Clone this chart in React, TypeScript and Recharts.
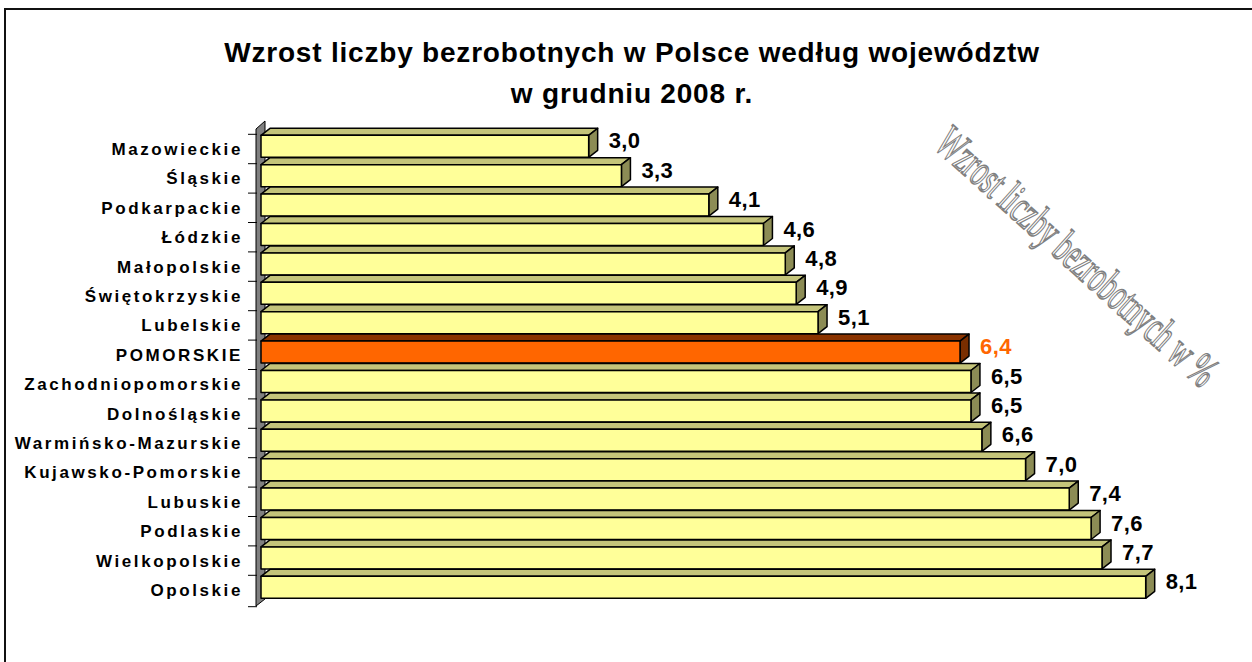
import React from "react";
import { BarChart, Bar, XAxis, YAxis, LabelList } from "recharts";

const regions = [
  "Mazowieckie",
  "Śląskie",
  "Podkarpackie",
  "Łódzkie",
  "Małopolskie",
  "Świętokrzyskie",
  "Lubelskie",
  "POMORSKIE",
  "Zachodniopomorskie",
  "Dolnośląskie",
  "Warmińsko-Mazurskie",
  "Kujawsko-Pomorskie",
  "Lubuskie",
  "Podlaskie",
  "Wielkopolskie",
  "Opolskie",
];
const growth = [3.0, 3.3, 4.1, 4.6, 4.8, 4.9, 5.1, 6.4, 6.5, 6.5, 6.6, 7.0, 7.4, 7.6, 7.7, 8.1];
const highlight = "POMORSKIE";

const titleLines = ["Wzrost liczby bezrobotnych w Polsce według województw", "w grudniu 2008 r."];
const watermark = "Wzrost liczby bezrobotnych w %";

const data = regions.map((name, i) => ({ name, value: growth[i] }));

const W = 1252;
const H = 662;
const DX = 9;
const DY = 7;
const BAND_HALF = 14.7;
const FONT = "'Liberation Sans', Arial, sans-serif";

const fmt = (v: number) => v.toFixed(1).replace(".", ",");

function Bar3D(props: any) {
  const { x, y, width, height, payload } = props;
  const hot = payload && payload.name === highlight;
  const front = hot ? "#FF6600" : "#FFFF99";
  const top = hot ? "#8A3300" : "#C4C47A";
  const side = hot ? "#7A2E00" : "#8C8C55";
  const fy = y - 3;
  const h = height;
  return (
    <g stroke="#000" strokeWidth={1.5} strokeLinejoin="round">
      <polygon
        points={`${x},${fy} ${x + DX},${fy - DY} ${x + width + DX},${fy - DY} ${x + width},${fy}`}
        fill={top}
      />
      <polygon
        points={`${x + width},${fy} ${x + width + DX},${fy - DY} ${x + width + DX},${fy + h - DY} ${x + width},${fy + h}`}
        fill={side}
      />
      <rect x={x} y={fy} width={width} height={h} fill={front} />
    </g>
  );
}

function ValueLabel(props: any) {
  const { x, y, width, value, index } = props;
  const hot = regions[index] === highlight;
  return (
    <text
      x={x + width + DX + 11}
      y={y + 10}
      fontFamily={FONT}
      fontWeight="bold"
      fontSize={22}
      letterSpacing={0.4}
      fill={hot ? "#FF6600" : "#000"}
    >
      {fmt(value)}
    </text>
  );
}

function CategoryTick(props: any) {
  const { y, payload, index } = props;
  const last = index === regions.length - 1;
  return (
    <g>
      <line x1={248} x2={257} y1={y - BAND_HALF} y2={y - BAND_HALF} stroke="#000" strokeWidth={1} />
      {last && <line x1={248} x2={257} y1={y + BAND_HALF + 2} y2={y + BAND_HALF + 2} stroke="#000" strokeWidth={1} />}
      <text
        x={243}
        y={y + 6}
        textAnchor="end"
        fontFamily={FONT}
        fontWeight="bold"
        fontSize={17}
        letterSpacing={2.6}
        fill="#000"
      >
        {payload.value}
      </text>
    </g>
  );
}

function Backdrop() {
  return (
    <svg width={W} height={H} style={{ position: "absolute", left: 0, top: 0 }}>
      <rect x={5} y={9} width={1300} height={700} fill="#fff" stroke="#111" strokeWidth={2} />
      {titleLines.map((t, i) => (
        <text
          key={i}
          x={632}
          y={62 + i * 41}
          textAnchor="middle"
          fontFamily={FONT}
          fontWeight="bold"
          fontSize={28}
          letterSpacing={0.8}
          fill="#000"
        >
          {t}
        </text>
      ))}
      <polygon
        points={`256,129 265,121 265,599 256,606`}
        fill="#808080"
        stroke="#000"
        strokeWidth={1}
      />
      <text
        x={0}
        y={0}
        transform="translate(1074 260) rotate(42)"
        textAnchor="middle"
        dominantBaseline="middle"
        fontFamily="'Liberation Serif', 'Times New Roman', serif"
        fontSize={46}
        textLength={362}
        lengthAdjust="spacingAndGlyphs"
        fill="#fff"
        stroke="#808080"
        strokeWidth={1.6}
      >
        {watermark}
      </text>
    </svg>
  );
}

export default function App() {
  return (
    <div style={{ position: "absolute", left: 0, top: 0, width: W, height: H }}>
      <Backdrop />
      <div style={{ position: "absolute", left: 0, top: 0 }}>
        <BarChart
          width={W}
          height={H}
          data={data}
          layout="vertical"
          margin={{ top: 134.3, right: 8, bottom: 57.3, left: 0 }}
          barSize={22}
        >
          <XAxis type="number" domain={[0, 9]} hide />
          <YAxis
            type="category"
            dataKey="name"
            width={261}
            axisLine={false}
            tickLine={false}
            tick={<CategoryTick />}
            interval={0}
          />
          <Bar dataKey="value" shape={<Bar3D />} isAnimationActive={false}>
            <LabelList dataKey="value" content={<ValueLabel />} />
          </Bar>
        </BarChart>
      </div>
    </div>
  );
}
